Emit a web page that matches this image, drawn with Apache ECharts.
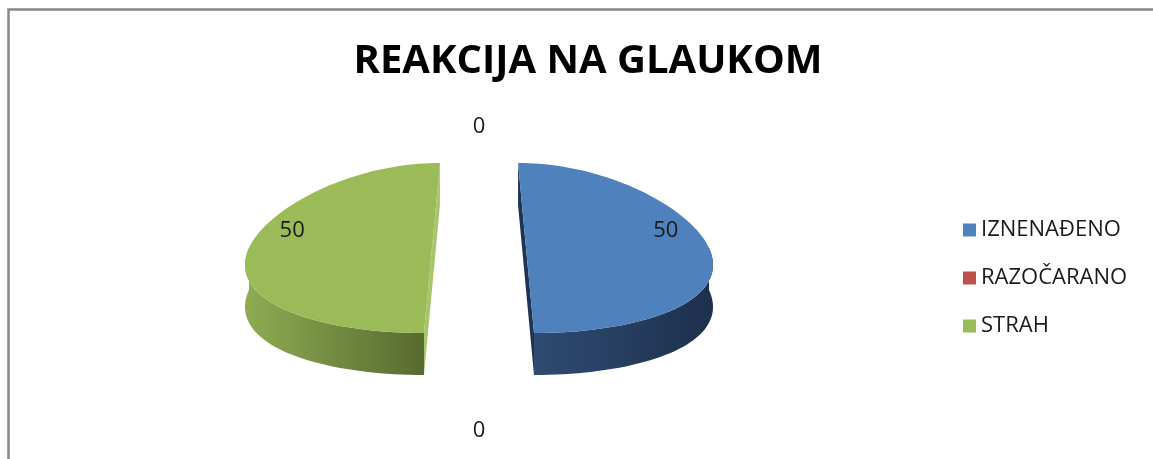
<!DOCTYPE html>
<html lang="hr">
<head>
    <meta charset="UTF-8">
    <script src="https://cdn.jsdelivr.net/npm/echarts@6/dist/echarts.min.js"></script>
    <style>
        html, body { margin: 0; padding: 0; background: #fff; }
        #chart { width: 1153px; height: 459px; }
    </style>
</head>
<body>
<div id="chart"></div>
<script>
    // podaci
    var categories = ['IZNENAĐENO', 'RAZOČARANO', 'STRAH', ''];
    var values = [50, 0, 50, 0];
    var topColors = ['#4F81BD', '#C0504D', '#9BBB59', '#8064A2'];
    var sideColors = [['#2F4B71', '#1D304D'], ['#8C3B39', '#6B2B29'], ['#8EAC53', '#586A2F'], ['#5E4A78', '#46375A']];
    var cutColors = ['#1F3352', '#7E3533', '#A8C56B', '#4A3A60'];

    // izgled "3D" kolača
    var P = { cx: 479, cy: 248, rx: 183, ry: 85, depth: 42, persp: 0.17, explode: 0.257 };

    function proj(u, v, down) {
        return [P.cx + P.rx * u * (1 - P.persp * v), P.cy - P.ry * v + (down ? P.depth : 0)];
    }

    function sliceAngles(i) {
        var total = values.reduce(function (a, b) { return a + b; }, 0);
        var cum = 0;
        for (var k = 0; k < i; k++) cum += values[k];
        var t0 = 90 - 360 * cum / total;
        var t1 = 90 - 360 * (cum + values[i]) / total;
        return { t0: t0, t1: t1, mid: (t0 + t1) / 2 };
    }

    function renderSlice(params, api) {
        var i = params.seriesIndex;
        var a = sliceAngles(i);
        var m = a.mid * Math.PI / 180;
        var ox = P.explode * Math.cos(m), oy = P.explode * Math.sin(m);
        var children = [];

        if (values[i] > 0) {
            var n = Math.max(2, Math.ceil(Math.abs(a.t0 - a.t1) / 2));
            var ths = [];
            for (var k = 0; k <= n; k++) ths.push((a.t0 + (a.t1 - a.t0) * k / n) * Math.PI / 180);

            // rezne plohe
            [ths[0], ths[n]].forEach(function (th) {
                var u = ox + Math.cos(th), v = oy + Math.sin(th);
                children.push({
                    type: 'polygon',
                    shape: { points: [proj(ox, oy), proj(u, v), proj(u, v, true), proj(ox, oy, true)] },
                    style: { fill: cutColors[i] }
                });
            });

            // bočni zid (samo prednji dio)
            var run = [];
            var runs = [];
            ths.forEach(function (th) {
                if (Math.sin(th) < 0.0001) run.push(th);
                else if (run.length) { runs.push(run); run = []; }
            });
            if (run.length) runs.push(run);
            runs.forEach(function (r) {
                if (r.length < 2) return;
                var pts = r.map(function (th) { return proj(ox + Math.cos(th), oy + Math.sin(th)); });
                var bot = r.slice().reverse().map(function (th) { return proj(ox + Math.cos(th), oy + Math.sin(th), true); });
                children.push({
                    type: 'polygon',
                    shape: { points: pts.concat(bot) },
                    style: {
                        fill: new echarts.graphic.LinearGradient(0, 0, 1, 0, [
                            { offset: 0, color: sideColors[i][0] },
                            { offset: 1, color: sideColors[i][1] }
                        ])
                    }
                });
            });

            // gornja ploha
            var topPts = [proj(ox, oy)].concat(ths.map(function (th) {
                return proj(ox + Math.cos(th), oy + Math.sin(th));
            }));
            children.push({
                type: 'polygon',
                shape: { points: topPts },
                style: { fill: topColors[i] }
            });
        }

        // oznaka vrijednosti
        var lp;
        if (values[i] > 0) {
            lp = proj(ox + 0.8 * Math.cos(m), oy + 0.8 * Math.sin(m) + 0.2);
        } else {
            var r = 1.166;
            lp = proj(ox + r * Math.cos(m), oy + r * Math.sin(m));
            if (Math.sin(m) < 0) lp[1] += P.depth + 20;
        }
        children.push({
            type: 'text',
            style: {
                text: String(api.value(0)),
                x: lp[0], y: lp[1],
                align: 'center', verticalAlign: 'middle',
                fontFamily: 'Open Sans', fontSize: 22, fill: '#1a1a1a'
            }
        });

        return { type: 'group', children: children };
    }

    var chart = echarts.init(document.getElementById('chart'));
    var series = categories.map(function (name, i) {
        return {
            type: 'custom',
            name: name,
            coordinateSystem: 'none',
            itemStyle: { color: topColors[i] },
            renderItem: renderSlice,
            data: [[values[i]]],
            silent: true
        };
    });

    var option = {
        animation: false,
        legend: {
            orient: 'vertical',
            left: 958,
            top: 214,
            itemWidth: 13,
            itemHeight: 13,
            itemGap: 26,
            icon: 'rect',
            data: categories.filter(function (c) { return c !== ''; }),
            textStyle: { fontFamily: 'Open Sans', fontSize: 22, lineHeight: 22, color: '#1a1a1a' }
        },
        graphic: [{
            type: 'rect',
            shape: { x: 8.5, y: 9.5, width: 1200, height: 500 },
            style: { fill: 'none', stroke: '#868686', lineWidth: 2.5 },
            silent: true
        }, {
            type: 'text',
            x: 588,
            y: 62,
            style: {
                text: 'REAKCIJA NA GLAUKOM',
                align: 'center', verticalAlign: 'middle',
                fontFamily: 'Open Sans', fontWeight: 'bold', fontSize: 40, fill: '#000'
            },
            silent: true
        }],
        series: series
    };
    chart.setOption(option);
</script>
</body>
</html>
